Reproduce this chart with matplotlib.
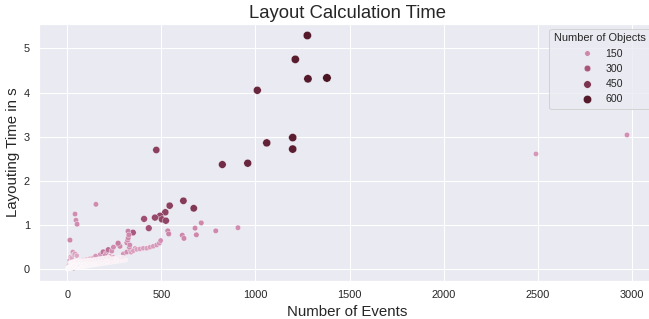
import numpy as np
import pandas as pd
import matplotlib
matplotlib.use("Agg")
import matplotlib.pyplot as plt
from matplotlib.colors import LinearSegmentedColormap
import seaborn as sns

# large / dark points (many objects)
big_events = [1276, 1212, 1279, 1380, 1010, 1198, 1060, 1198, 959, 824]
big_time = [5.29, 4.75, 4.31, 4.33, 4.05, 2.98, 2.86, 2.72, 2.40, 2.37]
big_objects = [600, 590, 600, 640, 530, 580, 550, 580, 520, 490]

# medium points
mid_events = [473, 617, 672, 544, 521, 493, 466, 503, 524, 408, 433, 349]
mid_time = [2.70, 1.55, 1.38, 1.44, 1.29, 1.21, 1.17, 1.13, 1.10, 1.14, 0.93, 0.83]
mid_objects = [400, 420, 430, 390, 380, 370, 360, 370, 375, 330, 320, 290]

# isolated small pink points
iso_events = [2491, 2975, 152, 41, 46, 52, 14, 712, 679, 686, 611, 620, 534, 539, 789, 907, 323]
iso_time = [2.61, 3.04, 1.47, 1.25, 1.11, 1.02, 0.66, 1.05, 0.93, 0.78, 0.77, 0.70, 0.87, 0.80, 0.87, 0.94, 0.86]
iso_objects = [120, 130, 140, 135, 135, 140, 150, 150, 150, 150, 155, 155, 160, 160, 145, 140, 170]

# pink band above the dense cluster
band_events = [8, 12, 14, 18, 23, 29, 35, 41, 50, 68, 85, 103, 120, 138, 155, 174, 191, 205, 218,
               227, 236, 245, 245, 254, 271, 280, 298, 316, 333, 360, 339, 351, 369, 386, 404,
               422, 440, 457, 475, 489, 496, 316, 321, 324, 327, 330, 332, 32, 270, 200, 150]
band_time = [0.10, 0.20, 0.14, 0.28, 0.26, 0.39, 0.33, 0.35, 0.31, 0.18, 0.21, 0.22, 0.24, 0.26, 0.28,
             0.33, 0.39, 0.36, 0.44, 0.29, 0.41, 0.27, 0.50, 0.22, 0.57, 0.52, 0.35, 0.39, 0.44, 0.47,
             0.385, 0.42, 0.45, 0.46, 0.475, 0.475, 0.50, 0.52, 0.55, 0.59, 0.65, 0.60, 0.66, 0.71,
             0.78, 0.50, 0.55, 0.03, 0.59, 0.31, 0.30]
band_objects = [90, 100, 95, 110, 100, 120, 105, 110, 100, 90, 95, 95, 100, 100, 105, 120, 210, 130,
                220, 110, 130, 100, 140, 95, 230, 150, 120, 130, 125, 120, 110, 110, 110, 110, 110,
                110, 115, 115, 120, 125, 130, 140, 145, 150, 150, 135, 140, 200, 180, 130, 120]

# dense cluster of tiny points near the origin
tiny_events = [5, 15, 25, 40, 55, 70, 85, 100, 115, 130, 145, 160, 175, 190, 205, 220, 235, 250, 265,
               280, 295, 310,
               10, 20, 32, 45, 58, 72, 86, 100, 114, 128, 142, 156, 170, 184, 198, 212, 226, 240, 254,
               268, 282, 296,
               15, 28, 42, 56, 70, 85, 100, 115, 130, 145, 160, 175, 190, 205, 220,
               0, 3, 6, 20, 35, 60, 90, 125, 165, 210, 260]
tiny_time = [0.01, 0.02, 0.02, 0.03, 0.04, 0.05, 0.06, 0.07, 0.08, 0.09, 0.10, 0.11, 0.12, 0.13, 0.14,
             0.15, 0.16, 0.17, 0.18, 0.19, 0.20, 0.21,
             0.06, 0.09, 0.11, 0.12, 0.13, 0.14, 0.15, 0.15, 0.16, 0.17, 0.18, 0.18, 0.19, 0.20, 0.21,
             0.22, 0.23, 0.24, 0.25, 0.26, 0.26, 0.27,
             0.15, 0.17, 0.18, 0.19, 0.19, 0.20, 0.20, 0.21, 0.21, 0.22, 0.23, 0.24, 0.25, 0.26, 0.27,
             0.00, 0.03, 0.05, 0.04, 0.08, 0.09, 0.10, 0.12, 0.15, 0.18, 0.22]
tiny_objects = [2, 3, 4, 4, 5, 5, 6, 6, 7, 7, 8, 8, 9, 9, 10, 10, 11, 11, 12, 12, 13, 13,
                3, 4, 5, 6, 7, 8, 9, 10, 11, 12, 13, 14, 15, 16, 17, 18, 19, 20, 20, 21, 22, 22,
                6, 7, 8, 9, 10, 11, 12, 13, 14, 15, 16, 17, 18, 19, 20,
                1, 2, 3, 4, 5, 6, 7, 8, 9, 10, 11]

df = pd.DataFrame({
    "Number of Events": big_events + mid_events + iso_events + band_events + tiny_events,
    "Layouting Time in s": big_time + mid_time + iso_time + band_time + tiny_time,
    "Number of Objects": big_objects + mid_objects + iso_objects + band_objects + tiny_objects,
})

sns.set_theme()
plt.rcParams['font.family'] = ['Liberation Sans', 'DejaVu Sans']

# white -> pink -> maroon ramp
cmap = LinearSegmentedColormap.from_list(
    "objects",
    [(0.0, "#fcf7fa"), (0.2, "#d28fb3"), (0.45, "#a9597f"), (0.7, "#7c3350"), (1.0, "#4a1422")])

fig = plt.figure(figsize=(649 / 72, 319 / 72), dpi=72)
ax = fig.add_axes([39.3 / 649, 38 / 319, (655 - 39.3) / 649, (281 - 24) / 319])
sns.scatterplot(data=df, x="Number of Events", y="Layouting Time in s",
                hue="Number of Objects", size="Number of Objects", palette=cmap, ax=ax)
ax.set_xlim(-149, 3124)
ax.set_ylim(-0.265, 5.55)
ax.set_title("Layout Calculation Time", fontsize=18.5)
ax.set_xlabel("Number of Events", fontsize=15)
ax.set_ylabel("Layouting Time in s", fontsize=15)
sns.move_legend(ax, "upper right", title="Number of Objects", fontsize=10.5, title_fontsize=11)

fig.savefig("out.png", dpi=72)
